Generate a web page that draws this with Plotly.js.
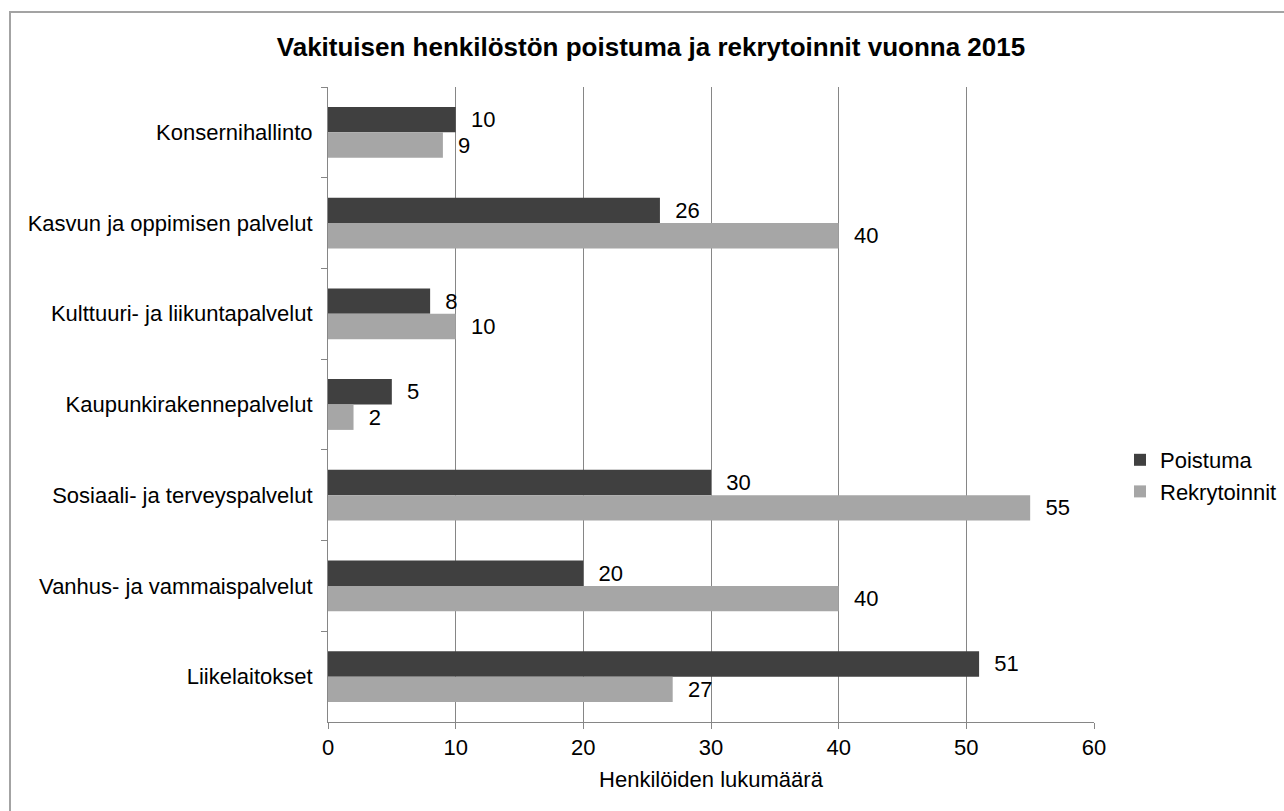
<!DOCTYPE html>
<html>
<head>
<meta charset="utf-8">
<script src="https://cdn.plot.ly/plotly-3.0.1.min.js"></script>
<style>
  body { margin: 0; background: #fff; }
  #frame { position: absolute; left: 9px; top: 11px; width: 1300px; height: 820px;
           border-left: 2px solid #a3a3a3; border-top: 2px solid #a3a3a3; }
  #plotArea { position: absolute; left: 0; top: 0; width: 1284px; height: 811px; }
</style>
</head>
<body>
<div id="frame"></div>
<div id="plotArea"></div>
<script>
// categories top to bottom
var units = ["Konsernihallinto", "Kasvun ja oppimisen palvelut", "Kulttuuri- ja liikuntapalvelut",
             "Kaupunkirakennepalvelut", "Sosiaali- ja terveyspalvelut", "Vanhus- ja vammaispalvelut",
             "Liikelaitokset"];
var poistuma = [10, 26, 8, 5, 30, 20, 51];
var rekrytoinnit = [9, 40, 10, 2, 55, 40, 27];
var xTicks = [0, 10, 20, 30, 40, 50, 60];

var font = "Liberation Sans, Arial, sans-serif";

var tracePoistuma = {
    name: "Poistuma",
    type: "bar",
    orientation: "h",
    y: units,
    x: poistuma,
    marker: {color: "#404040"},
    text: poistuma,
    texttemplate: "\u00a0\u00a0%{x}",
    textposition: "outside",
    textfont: {size: 22, color: "#000"},
    cliponaxis: false,
    hoverinfo: "none"
};
var traceRekry = {
    name: "Rekrytoinnit",
    type: "bar",
    orientation: "h",
    y: units,
    x: rekrytoinnit,
    marker: {color: "#a6a6a6"},
    text: rekrytoinnit,
    texttemplate: "\u00a0\u00a0%{x}",
    textposition: "outside",
    textfont: {size: 22, color: "#000"},
    cliponaxis: false,
    hoverinfo: "none"
};

var layout = {
    width: 1284,
    height: 811,
    margin: {l: 328, r: 190, t: 87, b: 89},
    paper_bgcolor: "rgba(0,0,0,0)",
    plot_bgcolor: "rgba(0,0,0,0)",
    font: {family: font, size: 22, color: "#000"},
    title: {
        text: "<b>Vakituisen henkilöstön poistuma ja rekrytoinnit vuonna 2015</b>",
        font: {size: 26, color: "#000"},
        x: 0.507, xref: "container", xanchor: "center",
        y: 1 - 47 / 811, yref: "container", yanchor: "middle"
    },
    barmode: "group",
    bargap: 0.44,
    bargroupgap: 0,
    xaxis: {
        range: [0, 60],
        tickvals: xTicks,
        showgrid: true,
        gridcolor: "#868686",
        gridwidth: 1,
        showline: true,
        linecolor: "#868686",
        ticks: "outside",
        ticklen: 6,
        tickcolor: "#868686",
        zeroline: false,
        tickfont: {size: 22},
        title: {text: "Henkilöiden lukumäärä", font: {size: 22}, standoff: 12}
    },
    yaxis: {
        autorange: "reversed",
        showline: true,
        linecolor: "#868686",
        ticks: "outside",
        tickson: "boundaries",
        ticklen: 6,
        tickcolor: "#868686",
        showgrid: false,
        tickfont: {size: 22},
        ticklabelstandoff: 10
    },
    legend: {
        traceorder: "normal",
        x: 1120 / 1284, xref: "container", xanchor: "left",
        y: 1 - 476 / 811, yref: "container", yanchor: "middle",
        font: {size: 22},
        itemwidth: 30,
        tracegroupgap: 0
    },
    showlegend: true
};

Plotly.newPlot("plotArea", [tracePoistuma, traceRekry], layout, {displayModeBar: false, staticPlot: true});
</script>
</body>
</html>
